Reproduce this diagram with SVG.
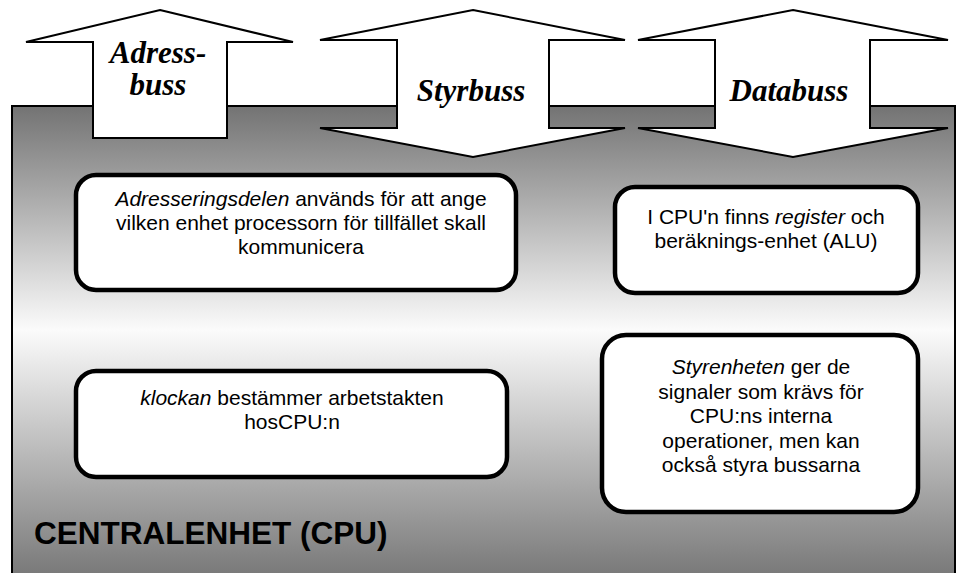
<svg xmlns="http://www.w3.org/2000/svg" width="962" height="573" viewBox="0 0 962 573">
  <style>
    .bus { fill: #ffffff; stroke: #000000; stroke-width: 2; stroke-linejoin: miter; }
    .bus-label { font-family: "Liberation Serif", "Times New Roman", serif; font-weight: bold; font-style: italic; font-size: 31px; fill: #000000; text-anchor: middle; }
    .box { fill: #ffffff; stroke: #000000; stroke-width: 4.5; }
    .box-text { font-family: "Liberation Sans", Arial, sans-serif; font-size: 21px; fill: #000000; text-anchor: middle; }
    .em { font-style: italic; }
    .cpu-label { font-family: "Liberation Sans", Arial, sans-serif; font-weight: bold; font-size: 31.5px; fill: #000000; }
  </style>
  <defs>
    <linearGradient id="cpuShade" gradientUnits="userSpaceOnUse" x1="0" y1="106" x2="0" y2="573">
      <stop offset="0" stop-color="#737373"/>
      <stop offset="0.48" stop-color="#fbfbfb"/>
      <stop offset="1" stop-color="#7a7a7a"/>
    </linearGradient>
  </defs>

  <rect width="962" height="573" fill="#ffffff"/>

  <!-- CPU body -->
  <g id="cpu">
    <rect x="12" y="106" width="943" height="500" fill="url(#cpuShade)" stroke="#000000" stroke-width="2"/>
    <text class="cpu-label" x="34" y="544">CENTRALENHET (CPU)</text>
  </g>

  <!-- bus arrows -->
  <g id="connectors">
    <g id="adressbuss">
      <polygon class="bus" points="160,10 293,42 227,42 227,138 93,138 93,42 26,42"/>
      <text class="bus-label" x="158" y="63">Adress-</text>
      <text class="bus-label" x="158" y="95">buss</text>
    </g>
    <g id="styrbuss">
      <polygon class="bus" points="473,10 625,40 549,40 549,128 625,128 473,157 320,128 397,128 397,40 320,40"/>
      <text class="bus-label" x="471" y="101">Styrbuss</text>
    </g>
    <g id="databuss">
      <polygon class="bus" points="793,10 948,40 870,40 870,128 948,128 793,157 638,128 715,128 715,40 638,40"/>
      <text class="bus-label" x="789" y="101">Databuss</text>
    </g>
  </g>

  <g id="adresseringsdel">
    <rect class="box" x="76" y="175" width="440" height="115" rx="20" ry="20"/>
    <text class="box-text" x="301" y="206"><tspan class="em">Adresseringsdelen</tspan> används för att ange</text>
    <text class="box-text" x="301" y="230">vilken enhet processorn för tillfället skall</text>
    <text class="box-text" x="301" y="254">kommunicera</text>
  </g>

  <g id="register">
    <rect class="box" x="615" y="187" width="303" height="106" rx="20" ry="20"/>
    <text class="box-text" x="766" y="224">I CPU'n finns <tspan class="em">register</tspan> och</text>
    <text class="box-text" x="766" y="248">beräknings-enhet (ALU)</text>
  </g>

  <g id="klocka">
    <rect class="box" x="76" y="371" width="431" height="106" rx="20" ry="20"/>
    <text class="box-text" x="292" y="405"><tspan class="em">klockan</tspan> bestämmer arbetstakten</text>
    <text class="box-text" x="292" y="429">hosCPU:n</text>
  </g>

  <g id="styrenhet">
    <rect class="box" x="602" y="335" width="316" height="177" rx="24" ry="24"/>
    <text class="box-text" x="761" y="374"><tspan class="em">Styrenheten</tspan> ger de</text>
    <text class="box-text" x="761" y="398.5">signaler som krävs för</text>
    <text class="box-text" x="761" y="423">CPU:ns interna</text>
    <text class="box-text" x="761" y="447.5">operationer, men kan</text>
    <text class="box-text" x="761" y="472">också styra bussarna</text>
  </g>
</svg>
